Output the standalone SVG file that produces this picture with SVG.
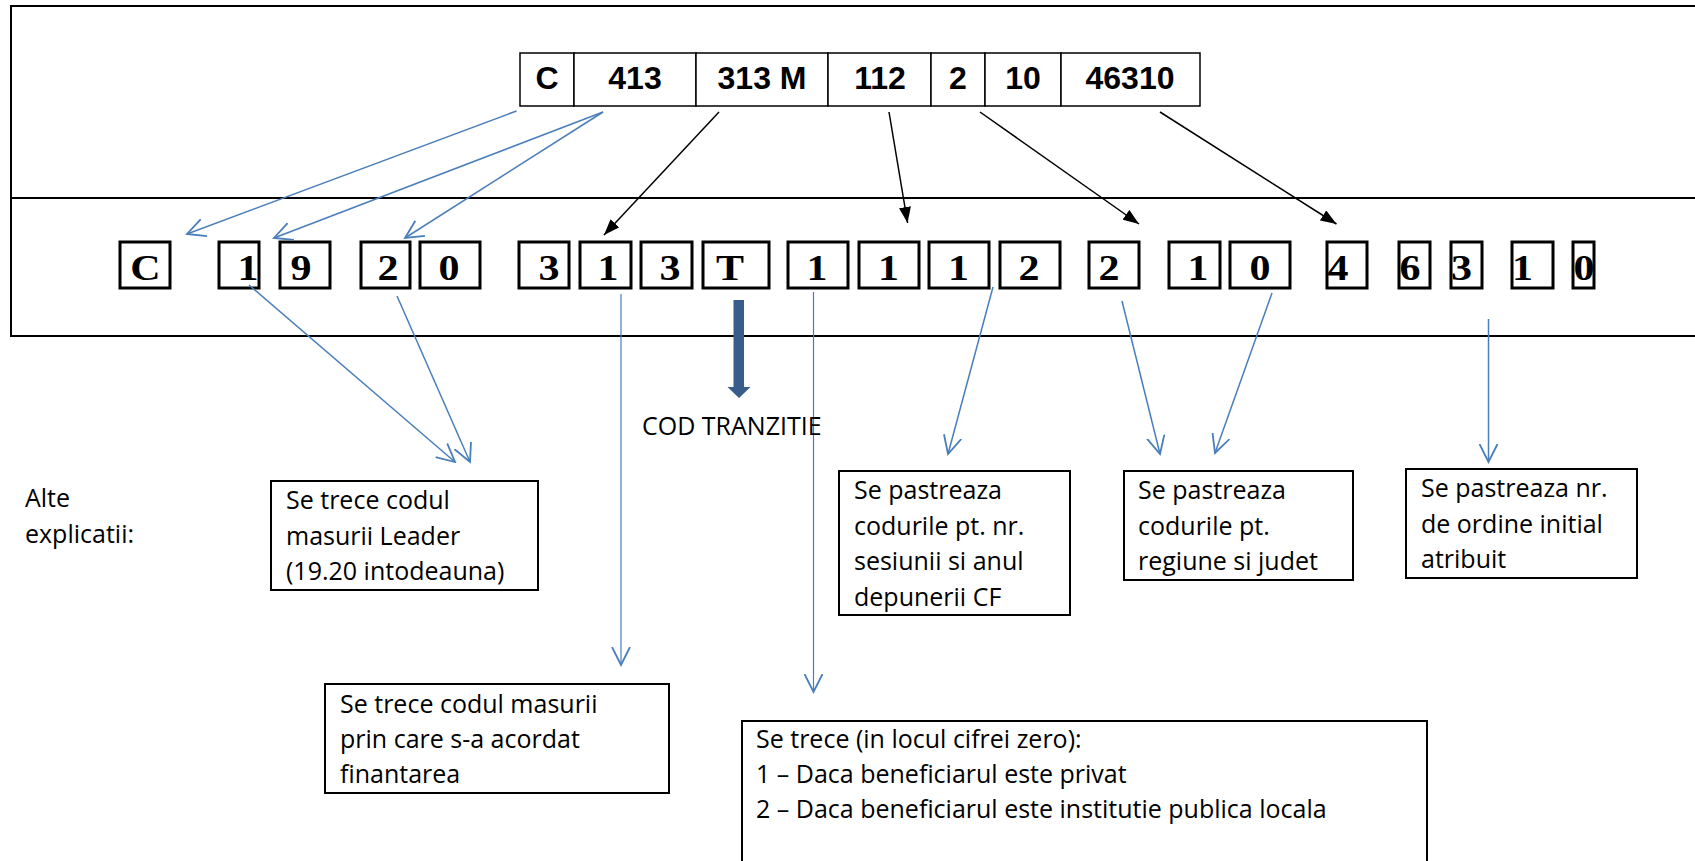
<svg xmlns="http://www.w3.org/2000/svg" width="1695" height="861" viewBox="0 0 1695 861">
<style>
.frame{fill:none;stroke:#000;stroke-width:2}
.cell{fill:#fff;stroke:#000;stroke-width:1.5}
.top{font-family:"Liberation Sans",Arial,sans-serif;font-weight:bold;font-size:32px;fill:#000;text-anchor:middle}
.dbox{fill:#fff;stroke:#000;stroke-width:3}
.dig{font-family:"Liberation Serif","Times New Roman",serif;font-weight:bold;font-size:35px;fill:#000;text-anchor:middle}
.tbox{fill:#fff;stroke:#000;stroke-width:2}
.txt{font-family:"Open Sans","Liberation Sans",sans-serif;font-size:25px;fill:#000}
.blue{fill:none;stroke:#4A7EBB;stroke-width:1.5;marker-end:url(#openB)}
.bluev{fill:none;stroke:#4A7EBB;stroke-width:1.2;marker-end:url(#openB)}
.black{fill:none;stroke:#000;stroke-width:1.5;marker-end:url(#solidK)}
</style>
<defs>
<marker id="openB" viewBox="0 0 20 20" refX="18" refY="10" markerWidth="20" markerHeight="20" markerUnits="userSpaceOnUse" orient="auto">
<path d="M0,1 L18,10 L0,19" fill="none" stroke="#4A7EBB" stroke-width="1.8"/>
</marker>
<marker id="solidK" viewBox="0 0 16 12" refX="16" refY="6" markerWidth="16" markerHeight="12" markerUnits="userSpaceOnUse" orient="auto">
<path d="M0,0 L16,6 L0,12 Z" fill="#000"/>
</marker>
</defs>
<rect width="1695" height="861" fill="#fff"/>

<g id="frame">
<path class="frame" d="M1700,6 H11 V336 H1700 M11,198 H1700"/>
</g>

<g id="old-code">
<rect class="cell" x="520" y="53" width="54" height="53"/>
<rect class="cell" x="574" y="53" width="122" height="53"/>
<rect class="cell" x="696" y="53" width="132" height="53"/>
<rect class="cell" x="828" y="53" width="103" height="53"/>
<rect class="cell" x="931" y="53" width="54" height="53"/>
<rect class="cell" x="985" y="53" width="76" height="53"/>
<rect class="cell" x="1061" y="53" width="139" height="53"/>
<text class="top" x="547" y="89">C</text>
<text class="top" x="635" y="89">413</text>
<text class="top" x="762" y="89">313 M</text>
<text class="top" x="880" y="89">112</text>
<text class="top" x="958" y="89">2</text>
<text class="top" x="1023" y="89">10</text>
<text class="top" x="1130" y="89">46310</text>
</g>

<g id="new-code">
<rect class="dbox" x="120" y="242" width="50" height="46"/>
<rect class="dbox" x="219" y="242" width="40" height="46"/>
<rect class="dbox" x="280" y="242" width="50" height="46"/>
<rect class="dbox" x="361" y="242" width="49" height="46"/>
<rect class="dbox" x="420" y="242" width="60" height="46"/>
<rect class="dbox" x="519" y="242" width="50" height="46"/>
<rect class="dbox" x="580" y="242" width="51" height="46"/>
<rect class="dbox" x="641" y="242" width="51" height="46"/>
<rect class="dbox" x="703" y="242" width="66" height="46"/>
<rect class="dbox" x="788" y="242" width="60" height="46"/>
<rect class="dbox" x="859" y="242" width="60" height="46"/>
<rect class="dbox" x="929" y="242" width="60" height="46"/>
<rect class="dbox" x="1000" y="242" width="60" height="46"/>
<rect class="dbox" x="1089" y="242" width="50" height="46"/>
<rect class="dbox" x="1169" y="242" width="51" height="46"/>
<rect class="dbox" x="1230" y="242" width="60" height="46"/>
<rect class="dbox" x="1327" y="242" width="40" height="46"/>
<rect class="dbox" x="1399" y="242" width="31" height="46"/>
<rect class="dbox" x="1451" y="242" width="31" height="46"/>
<rect class="dbox" x="1512" y="242" width="41" height="46"/>
<rect class="dbox" x="1573" y="242" width="21" height="46"/>
<g transform="scale(1.2 1)">
<text class="dig" x="121.25" y="280">C</text>
<text class="dig" x="206.67" y="280">1</text>
<text class="dig" x="250.83" y="280">9</text>
<text class="dig" x="323.33" y="280">2</text>
<text class="dig" x="374.17" y="280">0</text>
<text class="dig" x="457.5" y="280">3</text>
<text class="dig" x="506.67" y="280">1</text>
<text class="dig" x="558.33" y="280">3</text>
<text class="dig" x="608.33" y="280">T</text>
<text class="dig" x="680.83" y="280">1</text>
<text class="dig" x="740.42" y="280">1</text>
<text class="dig" x="798.83" y="280">1</text>
<text class="dig" x="857.5" y="280">2</text>
<text class="dig" x="924.17" y="280">2</text>
<text class="dig" x="998.33" y="280">1</text>
<text class="dig" x="1050" y="280">0</text>
<text class="dig" x="1115" y="280">4</text>
<text class="dig" x="1175" y="280">6</text>
<text class="dig" x="1217.92" y="280">3</text>
<text class="dig" x="1268.83" y="280">1</text>
<text class="dig" x="1320" y="280">0</text>
</g>
</g>

<g id="connectors">
<line class="blue" x1="516.5" y1="111" x2="187" y2="234"/>
<line class="blue" x1="603" y1="112" x2="274" y2="238"/>
<line class="blue" x1="603" y1="112" x2="405" y2="238"/>
<line class="black" x1="719" y1="112" x2="604" y2="235"/>
<line class="black" x1="889" y1="112" x2="907.6" y2="223"/>
<line class="black" x1="980" y1="112" x2="1139" y2="224"/>
<line class="black" x1="1160" y1="112" x2="1336.5" y2="224"/>
<line class="blue" x1="249" y1="285" x2="455" y2="462"/>
<line class="blue" x1="397" y1="296" x2="470" y2="462"/>
<line class="bluev" x1="621" y1="294" x2="621" y2="665"/>
<line class="bluev" x1="813.5" y1="292" x2="813.5" y2="692"/>
<line class="blue" x1="993" y1="287" x2="948" y2="454"/>
<line class="blue" x1="1122" y1="301" x2="1160" y2="454"/>
<line class="blue" x1="1272" y1="293" x2="1215" y2="453"/>
<line class="blue" x1="1488.5" y1="319" x2="1488.5" y2="462"/>
<path d="M733.5,300 H744 V387 H750.5 L739,398 L727.5,387 H733.5 Z" fill="#385D8A"/>
</g>

<g id="cod-tranzitie">
<text class="txt" x="642" y="435">COD TRANZITIE</text>
</g>

<g id="alte">
<text class="txt" x="25" y="507">Alte</text>
<text class="txt" x="25" y="543">explicatii:</text>
</g>

<g id="box-leader">
<rect class="tbox" x="271" y="481" width="267" height="109"/>
<text class="txt" x="286" y="509">Se trece codul</text>
<text class="txt" x="286" y="544.5">masurii Leader</text>
<text class="txt" x="286" y="580">(19.20 intodeauna)</text>
</g>

<g id="box-sesiune">
<rect class="tbox" x="839" y="471" width="231" height="144"/>
<text class="txt" x="854" y="499">Se pastreaza</text>
<text class="txt" x="854" y="534.5">codurile pt. nr.</text>
<text class="txt" x="854" y="570">sesiunii si anul</text>
<text class="txt" x="854" y="605.5">depunerii CF</text>
</g>

<g id="box-regiune">
<rect class="tbox" x="1124" y="471" width="229" height="109"/>
<text class="txt" x="1138" y="499">Se pastreaza</text>
<text class="txt" x="1138" y="534.5">codurile pt.</text>
<text class="txt" x="1138" y="570">regiune si judet</text>
</g>

<g id="box-ordine">
<rect class="tbox" x="1406" y="469" width="231" height="109"/>
<text class="txt" x="1421" y="497">Se pastreaza nr.</text>
<text class="txt" x="1421" y="532.5">de ordine initial</text>
<text class="txt" x="1421" y="568">atribuit</text>
</g>

<g id="box-masura">
<rect class="tbox" x="325" y="684" width="344" height="109"/>
<text class="txt" x="340" y="713">Se trece codul masurii</text>
<text class="txt" x="340" y="748">prin care s-a acordat</text>
<text class="txt" x="340" y="783">finantarea</text>
</g>

<g id="box-beneficiar">
<rect class="tbox" x="742" y="721" width="685" height="160"/>
<text class="txt" x="756" y="748">Se trece (in locul cifrei zero):</text>
<text class="txt" x="756" y="783">1 – Daca beneficiarul este privat</text>
<text class="txt" x="756" y="818">2 – Daca beneficiarul este institutie publica locala</text>
</g>
</svg>
